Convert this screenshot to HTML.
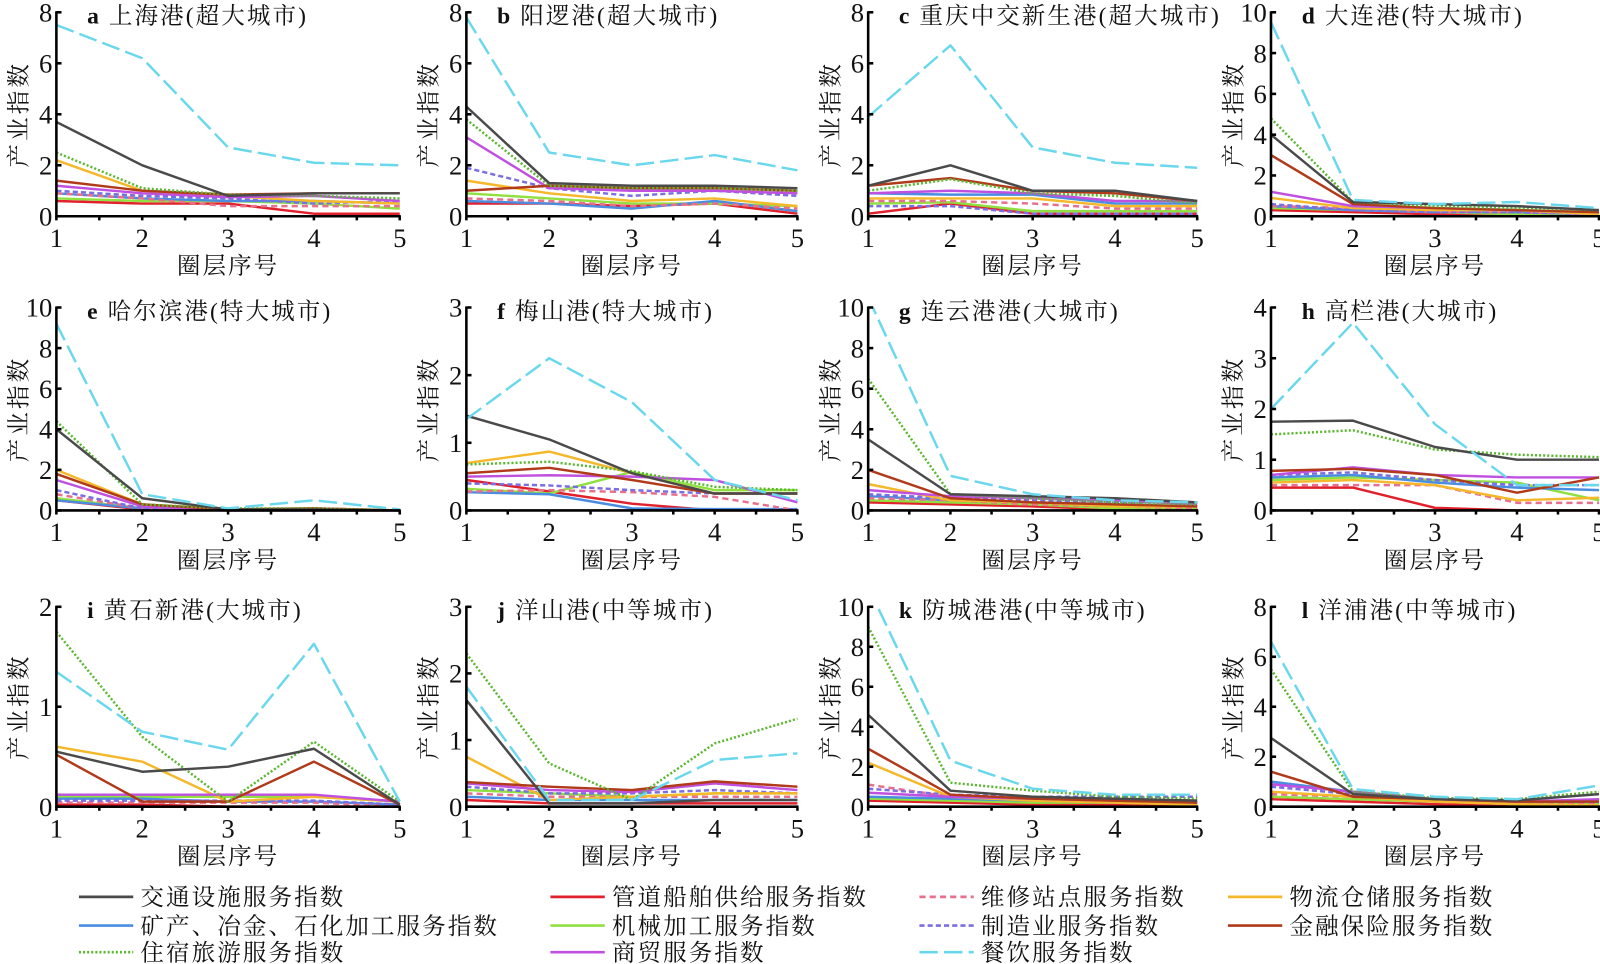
<!DOCTYPE html>
<html><head><meta charset="utf-8"><style>
html,body{margin:0;padding:0;background:#fff;}
svg{display:block;}
text{font-family:"Liberation Serif","Noto Serif CJK SC","Noto Sans CJK SC",serif;fill:#111;}
</style></head><body>
<svg id="s" width="1600" height="964" viewBox="0 0 1561 940.5" preserveAspectRatio="none" xmlns="http://www.w3.org/2000/svg"></svg>
<script>
const S=document.getElementById('s');
const NS='http://www.w3.org/2000/svg';
function el(t,a,txt){const e=document.createElementNS(NS,t);for(const k in a)e.setAttribute(k,a[k]);if(txt!==undefined)e.textContent=txt;S.appendChild(e);return e;}
const ST={
tr:{c:'#4a4a4a',d:''},pipe:{c:'#e0202a',d:''},rep:{c:'#e8708c',d:'6,4'},log:{c:'#f5b82a',d:''},
min:{c:'#4a8de0',d:''},mech:{c:'#90e040',d:''},mfg:{c:'#7a6ee0',d:'5,3'},fin:{c:'#b03a1a',d:''},
acc:{c:'#5ab830',d:'2,2'},trade:{c:'#c050e0',d:''},food:{c:'#6ad8ec',d:'18,6'}};
const order=['pipe','mech','min','rep','mfg','log','trade','fin','acc','tr','food'];
const cols=[[55,390],[455,778],[847,1168],[1240,1560]];
const rows=[[211,12],[498,300],[787,592]];
const P=[
{t:'a 上海港(超大城市)',m:8,s:2,d:{food:[7.5,6.2,2.7,2.1,2.0],tr:[3.7,2.0,0.8,0.9,0.9],acc:[2.5,1.1,0.85,0.8,0.7],log:[2.2,1.0,0.8,0.6,0.5],fin:[1.4,1.0,0.85,0.9,0.9],trade:[1.2,0.9,0.75,0.8,0.6],mfg:[1.0,0.8,0.7,0.5,0.6],rep:[0.9,0.7,0.4,0.4,0.4],min:[0.9,0.7,0.6,0.6,0.5],mech:[0.7,0.6,0.6,0.5,0.3],pipe:[0.6,0.5,0.5,0.1,0.1]}},
{t:'b 阳逻港(超大城市)',m:8,s:2,d:{food:[7.8,2.5,2.0,2.4,1.8],tr:[4.3,1.3,1.2,1.2,1.1],acc:[3.8,1.2,1.1,1.1,1.0],trade:[3.1,1.1,1.0,1.0,0.9],mfg:[1.9,1.1,0.8,1.0,0.8],log:[1.4,0.9,0.6,0.7,0.4],fin:[1.0,1.2,1.1,1.1,1.0],mech:[0.9,0.7,0.5,0.5,0.4],rep:[0.7,0.6,0.4,0.5,0.3],min:[0.6,0.5,0.3,0.6,0.2],pipe:[0.5,0.5,0.4,0.5,0.1]}},
{t:'c 重庆中交新生港(超大城市)',m:8,s:2,d:{food:[3.9,6.7,2.7,2.1,1.9],tr:[1.2,2.0,1.0,1.0,0.6],fin:[1.2,1.5,1.0,0.9,0.6],acc:[1.0,1.45,0.9,0.8,0.5],trade:[0.9,1.0,0.9,0.6,0.6],min:[0.9,0.85,0.85,0.5,0.5],log:[0.7,0.7,0.7,0.4,0.4],rep:[0.6,0.6,0.5,0.3,0.3],mech:[0.5,0.55,0.2,0.2,0.2],mfg:[0.4,0.4,0.1,0.1,0.1],pipe:[0.1,0.5,0.1,0.1,0.1]}},
{t:'d 大连港(特大城市)',m:10,s:2,d:{food:[9.5,0.8,0.6,0.7,0.4],acc:[4.8,0.7,0.5,0.4,0.3],tr:[4.0,0.7,0.6,0.5,0.3],fin:[3.0,0.6,0.4,0.3,0.2],trade:[1.2,0.5,0.4,0.3,0.2],log:[0.9,0.4,0.3,0.3,0.1],mfg:[0.6,0.3,0.2,0.2,0.1],min:[0.5,0.3,0.2,0.2,0.1],mech:[0.4,0.3,0.2,0.1,0.1],rep:[0.5,0.4,0.2,0.2,0.1],pipe:[0.3,0.2,0.1,0.1,0.05]}},
{t:'e 哈尔滨港(特大城市)',m:10,s:2,d:{food:[9.2,0.8,0.1,0.5,0.05],acc:[4.4,0.3,0.1,0.1,0],tr:[4.0,0.6,0.05,0.05,0],log:[2.0,0.3,0.05,0.1,0],fin:[1.8,0.3,0.05,0.1,0],trade:[1.5,0.2,0,0.05,0],mfg:[1.0,0.1,0,0,0],rep:[0.8,0.1,0,0,0],min:[0.5,0.1,0,0,0],mech:[0.6,0.1,0,0,0],pipe:[0.5,0.05,0,0,0]}},
{t:'f 梅山港(特大城市)',m:3,s:1,d:{food:[1.35,2.25,1.6,0.45,0.15],tr:[1.4,1.05,0.55,0.25,0.25],log:[0.7,0.87,0.55,0.25,0.25],acc:[0.68,0.72,0.58,0.35,0.3],fin:[0.55,0.63,0.45,0.25,0.25],trade:[0.5,0.52,0.5,0.45,0.12],mfg:[0.4,0.37,0.3,0.25,0.25],pipe:[0.45,0.28,0.1,0,0],mech:[0.32,0.25,0.57,0.3,0.3],rep:[0.28,0.3,0.27,0.2,0],min:[0.27,0.24,0.03,0.02,0.02]}},
{t:'g 连云港港(大城市)',m:10,s:2,d:{food:[10.5,1.7,0.8,0.5,0.4],acc:[6.5,0.8,0.6,0.4,0.3],tr:[3.5,0.8,0.7,0.6,0.4],fin:[2.0,0.6,0.4,0.3,0.2],log:[1.3,0.5,0.4,0.2,0.2],trade:[1.0,0.7,0.6,0.5,0.3],mfg:[0.8,0.6,0.5,0.4,0.4],min:[0.7,0.5,0.4,0.3,0.2],mech:[0.5,0.4,0.3,0.1,0.1],rep:[0.6,0.5,0.3,0.2,0.1],pipe:[0.4,0.3,0.2,0.05,0.05]}},
{t:'h 高栏港(大城市)',m:4,s:1,d:{food:[2.0,3.7,1.7,0.5,0.5],tr:[1.75,1.77,1.25,1.0,1.0],acc:[1.5,1.58,1.2,1.1,1.05],fin:[0.78,0.82,0.7,0.35,0.65],trade:[0.7,0.85,0.7,0.65,0.65],mfg:[0.7,0.75,0.6,0.5,0.5],min:[0.65,0.7,0.55,0.45,0.4],mech:[0.6,0.65,0.6,0.55,0.2],log:[0.55,0.6,0.5,0.2,0.25],rep:[0.5,0.5,0.5,0.15,0.15],pipe:[0.45,0.45,0.05,0,0]}},
{t:'i 黄石新港(大城市)',m:2,s:1,d:{acc:[1.75,0.7,0.05,0.65,0.05],food:[1.35,0.75,0.57,1.63,0.05],log:[0.6,0.45,0.05,0.1,0.05],tr:[0.55,0.35,0.4,0.58,0.02],fin:[0.52,0.05,0.05,0.45,0.02],trade:[0.12,0.12,0.12,0.12,0.05],mech:[0.1,0.1,0.1,0.1,0.05],min:[0.08,0.08,0.05,0.05,0.02],mfg:[0.06,0.06,0.06,0.06,0.02],rep:[0.04,0.04,0.04,0.04,0],pipe:[0.02,0.02,0,0,0]}},
{t:'j 洋山港(中等城市)',m:3,s:1,d:{acc:[2.3,0.65,0.1,0.95,1.32],food:[1.8,0.1,0.1,0.7,0.8],tr:[1.6,0.05,0.05,0.1,0.1],log:[0.75,0.1,0.15,0.2,0.2],fin:[0.37,0.3,0.25,0.38,0.3],trade:[0.35,0.25,0.22,0.35,0.25],mfg:[0.3,0.2,0.2,0.25,0.2],mech:[0.25,0.2,0.15,0.2,0.2],rep:[0.2,0.15,0.15,0.15,0.15],min:[0.15,0.1,0.1,0.1,0.1],pipe:[0.1,0.05,0.05,0.05,0.05]}},
{t:'k 防城港港(中等城市)',m:10,s:2,d:{food:[11,2.3,0.9,0.6,0.6],acc:[9.0,1.2,0.8,0.5,0.4],tr:[4.6,0.8,0.5,0.4,0.3],fin:[2.9,0.6,0.4,0.3,0.2],log:[2.2,0.5,0.3,0.2,0.1],rep:[1.1,0.5,0.3,0.3,0.3],mfg:[0.9,0.6,0.5,0.5,0.5],trade:[0.7,0.5,0.4,0.3,0.2],min:[0.5,0.4,0.3,0.2,0.2],mech:[0.4,0.3,0.2,0.2,0.1],pipe:[0.3,0.2,0.1,0.1,0.05]}},
{t:'l 洋浦港(中等城市)',m:8,s:2,d:{food:[6.6,0.7,0.4,0.3,0.85],acc:[5.5,0.6,0.35,0.3,0.6],tr:[2.75,0.5,0.3,0.25,0.5],fin:[1.4,0.4,0.3,0.2,0.2],min:[1.0,0.6,0.3,0.2,0.2],trade:[0.9,0.6,0.3,0.2,0.3],mfg:[0.8,0.5,0.3,0.2,0.2],log:[0.6,0.4,0.2,0.1,0.05],rep:[0.5,0.4,0.2,0.1,0.1],mech:[0.4,0.3,0.2,0.1,0.1],pipe:[0.3,0.2,0.1,0.05,0]}}
];
P.forEach((p,i)=>{
  const r=Math.floor(i/4),c=i%4;
  const [x0,x1]=cols[c],[y0,yt]=rows[r];
  const X=k=>x0+(x1-x0)*k/4, Y=v=>y0-(y0-yt)*v/p.m;
  const cp=el('clipPath',{id:'c'+i});
  const rc=document.createElementNS(NS,'rect');
  rc.setAttribute('x',x0);rc.setAttribute('y',yt);rc.setAttribute('width',x1-x0+2);rc.setAttribute('height',y0-yt+2);cp.appendChild(rc);
  order.forEach(k=>{
    const v=p.d[k];if(!v)return;
    el('polyline',{points:v.map((y,j)=>X(j).toFixed(1)+','+Y(y).toFixed(1)).join(' '),fill:'none',stroke:ST[k].c,'stroke-width':2.4,'stroke-dasharray':ST[k].d,'clip-path':'url(#c'+i+')','stroke-linejoin':'round'});
  });
  el('line',{x1:x0,y1:y0,x2:x1+1,y2:y0,stroke:'#000','stroke-width':2.5});
  el('line',{x1:x0,y1:yt-1,x2:x0,y2:y0+1,stroke:'#000','stroke-width':2.5});
  for(let k=0;k<=8;k++){const x=x0+(x1-x0)*k/8;el('line',{x1:x,y1:y0,x2:x,y2:y0+4,stroke:'#000','stroke-width':2.5});}
  for(let v=0;v<=p.m;v+=p.s){el('line',{x1:x0,y1:Y(v),x2:x0+5,y2:Y(v),stroke:'#000','stroke-width':2.5});
    el('text',{x:x0-4,y:Y(v)+9,'font-size':26,'text-anchor':'end'},String(v));}
  for(let k=0;k<5;k++)el('text',{x:X(k),y:y0+30,'font-size':26,'text-anchor':'middle'},String(k+1));
  el('text',{x:(x0+x1)/2,y:y0+56,'font-size':23,'text-anchor':'middle','letter-spacing':2},'圈层序号');
  const ym=(y0+yt)/2, tx=x0-37;
  el('text',{x:tx,y:ym+8,'font-size':23,'text-anchor':'middle','transform':`rotate(-90 ${tx} ${ym})`,'letter-spacing':3},'产业指数');
  const sp=p.t.indexOf(' ');
  const tt=el('text',{x:x0+30,y:yt+11,'font-size':23,'letter-spacing':2});
  const a=document.createElementNS(NS,'tspan');a.setAttribute('font-weight','bold');a.textContent=p.t.slice(0,sp);tt.appendChild(a);
  const b=document.createElementNS(NS,'tspan');b.textContent=' '+p.t.slice(sp+1);tt.appendChild(b);
});
const L=[[77,875,'tr','交通设施服务指数'],[77,903,'min','矿产、冶金、石化加工服务指数'],[77,929,'acc','住宿旅游服务指数'],
[537,875,'pipe','管道船舶供给服务指数'],[537,903,'mech','机械加工服务指数'],[537,929,'trade','商贸服务指数'],
[897,875,'rep','维修站点服务指数'],[897,903,'mfg','制造业服务指数'],[897,929,'food','餐饮服务指数'],
[1198,875,'log','物流仓储服务指数'],[1198,903,'fin','金融保险服务指数']];
L.forEach(([x,y,k,t])=>{
  el('line',{x1:x,y1:y,x2:x+53,y2:y,stroke:ST[k].c,'stroke-width':2.6,'stroke-dasharray':ST[k].d});
  el('text',{x:x+60,y:y+8,'font-size':23,'letter-spacing':2},t);
});
</script>
</body></html>
